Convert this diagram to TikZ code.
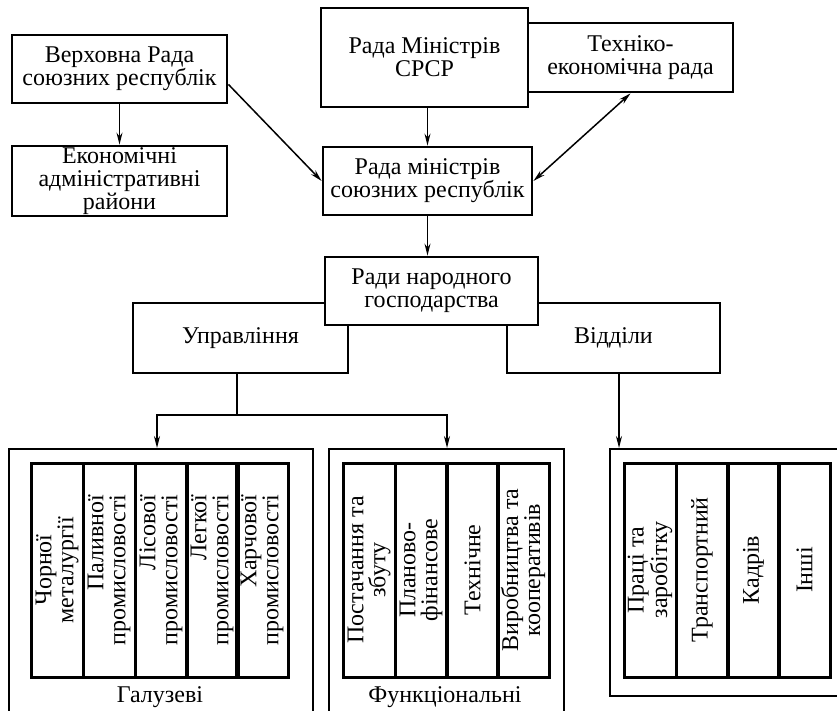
\documentclass[tikz,border=0pt]{standalone}
\usepackage{fontspec}
\setmainfont{Liberation Serif}
\usetikzlibrary{arrows.meta,calc}
\begin{document}
\begin{tikzpicture}[x=1pt,y=-1pt,
  box/.style={draw, line width=2.8pt, fill=white, align=center, inner sep=0pt,
    font=\fontsize{24}{23}\selectfont},
  grp/.style={draw, line width=1.5pt, inner sep=0pt, anchor=north west},
  col/.style={draw, line width=3pt, rotate=90, minimum width=214pt, minimum height=52pt,
    inner sep=0pt, font=\fontsize{24}{22}\selectfont},
  lbl/.style={inner sep=0pt, font=\fontsize{24}{24}\selectfont},
  conn/.style={line width=1.5pt},
  tip/.tip={Stealth[length=12pt,width=6pt]},
  arr/.style={conn, -tip}
]
\useasboundingbox (0,0) rectangle (837,711);
\clip (0,0) rectangle (837,711);

% group frames
\node[grp, minimum width=304pt, minimum height=300pt] (gal) at (8,448) {};
\node[grp, minimum width=235pt, minimum height=300pt] (fun) at (328,448) {};
\node[grp, minimum width=300pt, minimum height=247pt] (otd) at (609,448) {};
\node[lbl] (galt) at (160,697) {Галузеві};
\node[lbl] (funt) at (445,697) {Функціональні};

% columns
\node[col, align=center] (g1) at (57,570) {Чорної\\металургії};
\node[col, align=right] (g2) at (109,570) {Паливної\\промисловості};
\node[col, align=right] (g3) at (161,570) {Лісової\\промисловості};
\node[col, align=right] (g4) at (212,570) {Легкої\\промисловості};
\node[col, align=right] (g5) at (262,570) {Харчової\\промисловості};

\node[col, align=center] (f1) at (369,570) {Постачання та\\збуту};
\node[col, align=center] (f2) at (421,570) {Планово-\\фінансове};
\node[col, align=center] (f3) at (472.5,570) {Технічне};
\node[col, align=center] (f4) at (523,570) {Виробництва та\\кооперативів};

\node[col, align=center] (o1) at (650,570) {Праці та\\заробітку};
\node[col, align=center] (o2) at (702,570) {Транспортний};
\node[col, align=center] (o3) at (753.5,570) {Кадрів};
\node[col, align=center] (o4) at (804.5,570) {Інші};

% top boxes
\node[box, minimum width=215pt, minimum height=68pt] (verh) at (119.5,69) {Верховна Рада\\союзних республік};
\node[box, minimum width=215pt, minimum height=70pt] (ekon) at (119.5,181) {Економічні\\адміністративні\\райони};
\node[box, minimum width=205pt, minimum height=69pt] (tekh) at (630.5,57.5) {Техніко-\\економічна рада};
\node[box, minimum width=207pt, minimum height=99pt] (srsr) at (424.5,57.5) {Рада Міністрів\\СРСР};
\node[box, minimum width=209pt, minimum height=68pt] (rms) at (427.5,181) {Рада міністрів\\союзних республік};
\node[box, minimum width=215pt, minimum height=70pt] (upr) at (240.5,338) {Управління};
\node[box, minimum width=213pt, minimum height=70pt] (vid) at (613.5,338) {Відділи};
\node[box, minimum width=213pt, minimum height=68pt] (rnh) at (431.5,291) {Ради народного\\господарства};

% connectors
\coordinate (uj) at (237,415);
\coordinate (gin) at (157,448);
\coordinate (fin) at (447,448);
\coordinate (oin) at (619,448);

\draw[arr] (verh.south) -- (ekon.north);
\draw[arr] ($(verh.south east)+(0,-20)$) -- (rms.west);
\draw[arr] (rms.north |- srsr.south) -- (rms.north);
\draw[conn, tip-tip] (tekh.south) -- (rms.east);
\draw[arr] (rms.south) -- (rms.south |- rnh.north);
\draw[conn] (uj |- upr.south) -- (uj);
\draw[arr] (uj) -| (gin);
\draw[arr] (uj) -| (fin);
\draw[arr] (oin |- vid.south) -- (oin);
\end{tikzpicture}
\end{document}
